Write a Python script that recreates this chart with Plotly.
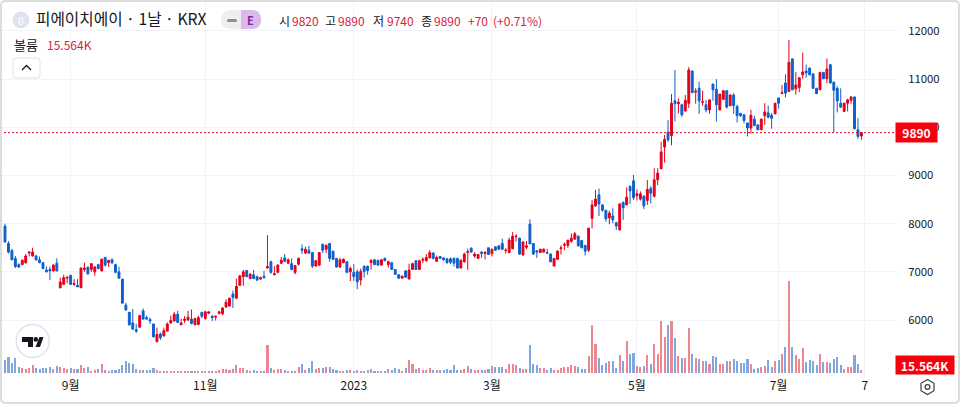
import plotly.graph_objects as go

opens = [7950,7590,7440,7280,7150,7150,7190,7390,7330,7330,
7250,7190,7040,7050,7020,7180,6670,6740,6870,6930,
6740,6720,6670,7050,7090,7050,7000,7150,7020,7300,
7190,7250,7150,7000,6850,6310,6160,5940,5800,5850,
6190,6050,6010,5920,5550,5710,5670,5770,5940,5980,
6120,5900,5990,6000,6020,5900,5910,6160,6030,6140,
6080,6060,6140,6130,6270,6290,6540,6450,6720,6900,
7030,6860,6940,6900,6850,6910,7080,7210,6940,6990,
7180,7290,7180,7170,6990,7160,7480,7390,7450,7400,
7120,7140,7570,7470,7590,7430,7280,7100,7190,7210,
7000,6990,7000,6830,7110,7120,7190,7250,7240,7140,
7280,7150,7190,7050,6940,6870,7020,6850,7050,7230,
7050,7240,7230,7290,7390,7220,7320,7290,7270,7270,
7280,7280,7080,7210,7400,7490,7330,7280,7410,7380,
7500,7380,7520,7540,7590,7440,7400,7480,7730,7700,
7350,7510,7990,7590,7440,7400,7410,7400,7370,7120,
7260,7480,7550,7550,7630,7680,7740,7650,7550,7450,
8110,8370,8600,8390,8280,8120,8160,8020,7870,8440,
8390,8770,8890,8580,8510,8570,8480,8730,8570,8910,
9140,9590,9900,9830,10550,10490,10470,10340,10500,11170,
10730,10810,10520,10470,10360,10900,10790,10360,10580,10760,
10450,10670,10430,10290,10260,10090,9985,10170,10050,9950,
10240,10300,10250,10280,10610,10700,10920,10745,11420,10800,
10830,11090,11170,11230,11110,10810,10780,11140,11010,11300,
10940,10810,10500,10330,10500,10560,10630,9950,9820]

highs = [8000,7640,7480,7330,7180,7260,7370,7430,7500,7350,
7320,7210,7110,7110,7160,7280,6880,6940,6890,6930,
6850,6850,7090,7190,7120,7170,7120,7170,7280,7310,
7240,7280,7170,7110,6850,6360,6170,6230,5920,6110,
6240,6090,6050,5920,5840,5740,5840,5950,6090,6170,
6190,6030,6080,6190,6220,6050,6090,6170,6190,6170,
6100,6080,6190,6270,6430,6470,6610,6860,6930,7040,
7030,6980,7040,6920,6900,7020,7760,7230,7120,7160,
7310,7370,7280,7280,7140,7300,7570,7520,7540,7400,
7250,7400,7590,7570,7590,7430,7280,7290,7280,7220,
7110,7160,7050,7070,7140,7120,7260,7260,7250,7270,
7300,7230,7200,7050,6950,6920,7040,7170,7190,7240,
7250,7300,7370,7450,7410,7340,7330,7300,7290,7300,
7300,7290,7260,7400,7480,7510,7410,7370,7430,7420,
7500,7480,7530,7550,7690,7500,7710,7830,7780,7710,
7640,7640,8090,7590,7440,7480,7490,7480,7380,7280,
7450,7550,7610,7660,7800,7830,7760,7660,7550,7910,
8490,8700,8730,8410,8280,8270,8320,8040,8420,8460,
8750,8800,9010,8710,8670,8590,8910,8780,9150,9150,
9700,9840,10150,10690,11190,10600,10490,10670,11250,11170,
10810,10950,10760,10570,10570,10900,11000,10690,10770,10770,
10680,10710,10470,10300,10270,10100,10365,10240,10060,10180,
10500,10450,10300,10510,10610,10880,11100,11810,11430,11150,
11030,11550,11300,11240,11120,10820,11150,11150,11430,11310,
10940,10850,10810,10510,10590,10650,10640,10190,9890]

lows = [7610,7380,7250,7080,7080,7140,7170,7320,7320,7230,
7180,7050,6990,6830,7010,7010,6660,6730,6760,6730,
6710,6690,6670,7000,6940,7000,6920,7050,7010,7110,
7100,7160,6970,6860,6350,6190,5890,5810,5730,5850,
6010,6010,5920,5640,5540,5590,5660,5760,5920,5970,
5940,5900,5940,5980,5910,5900,5890,6040,6010,6130,
5980,5990,6110,6100,6250,6280,6250,6440,6710,6710,
6890,6850,6850,6810,6840,6860,7070,6960,6930,6970,
7160,7200,7160,7030,6950,7130,7370,7370,7370,7080,
7110,7120,7390,7390,7210,7250,7090,7080,7180,6970,
6810,6810,6640,6720,6880,6940,7050,7140,7130,7130,
7220,7090,7040,6940,6850,6860,6880,6850,7040,7040,
7050,7180,7210,7280,7260,7210,7270,7230,7170,7160,
7110,7070,7070,7190,7040,7400,7290,7270,7290,7260,
7350,7320,7440,7460,7450,7380,7390,7470,7630,7350,
7340,7470,7580,7350,7290,7390,7400,7370,7200,7120,
7250,7360,7450,7500,7610,7660,7520,7490,7340,7410,
7900,8350,8160,8250,8040,7990,8010,7870,7860,8080,
8390,8410,8490,8480,8480,8300,8390,8420,8540,8800,
9130,9270,9700,9630,10120,10290,10220,10320,10400,10710,
10490,10280,10450,10310,10280,10550,10120,10360,10570,10390,
10440,10280,10100,10220,10080,9810,9870,10020,9940,9940,
10050,10190,9970,10270,10390,10700,10620,10740,10770,10680,
10730,11010,11030,11080,10800,10690,10770,11000,10920,10910,
9900,10310,10400,10320,10330,10490,9960,9760,9740]

closes = [7620,7410,7250,7110,7100,7240,7330,7410,7410,7250,
7190,7070,7000,7020,7140,7020,6790,6880,6890,6740,
6760,6690,7080,7080,6960,7170,7100,7070,7260,7140,
7240,7190,6990,6870,6350,6210,5900,5810,5770,6090,
6020,6020,5980,5650,5700,5630,5780,5920,5990,6120,
5950,5940,6020,6060,5930,6030,6050,6080,6170,6170,
6050,6080,6170,6250,6370,6450,6470,6700,6920,7000,
6900,6950,6860,6830,6880,6880,7110,6990,6960,7140,
7240,7220,7250,7050,7130,7280,7450,7470,7390,7120,
7230,7400,7450,7550,7280,7260,7100,7250,7260,6990,
7070,6900,6790,7010,7010,7030,7240,7150,7140,7250,
7230,7210,7050,6950,6870,6910,6890,7040,7170,7050,
7230,7260,7300,7400,7280,7300,7280,7250,7190,7200,
7180,7080,7240,7370,7420,7410,7370,7360,7380,7410,
7360,7470,7450,7470,7470,7450,7660,7740,7740,7370,
7620,7540,7580,7370,7410,7470,7470,7390,7210,7280,
7430,7500,7570,7660,7700,7790,7540,7500,7430,7910,
8390,8510,8410,8280,8100,8220,8080,7950,8410,8330,
8550,8680,8540,8620,8620,8370,8710,8630,8910,9050,
9490,9750,9740,10500,10490,10520,10260,10560,11190,10720,
10750,10550,10530,10360,10570,10780,10470,10690,10760,10420,
10670,10450,10240,10240,10140,9985,10250,10040,9950,10170,
10320,10210,10190,10500,10500,10720,10710,11350,10780,10880,
11030,11150,11130,11090,10810,10700,11140,11010,11210,10920,
10770,10550,10420,10500,10570,10630,9970,9810,9890]

volumes_k = [74,90,58,84,35,25,23,25,45,29,
23,29,29,31,23,39,31,29,20,25,
20,23,45,27,31,12,16,20,51,16,
12,18,16,20,45,68,55,53,21,16,
14,16,16,27,16,12,10,9,10,9,
10,10,10,10,8,10,10,9,10,9,
10,12,16,20,21,14,20,45,27,27,
16,12,16,10,8,8,162,25,18,20,
20,16,10,8,8,31,51,16,27,68,
20,25,27,31,31,20,14,8,12,18,
16,10,14,12,12,16,20,8,8,10,
12,21,16,25,20,12,25,72,53,21,
27,18,18,25,14,18,14,18,21,14,
45,14,16,20,39,20,16,16,16,16,
23,39,31,31,35,23,51,51,47,25,
23,20,162,49,45,27,25,16,25,16,
16,29,31,31,43,39,31,20,21,98,
279,168,86,45,57,68,68,29,103,68,
185,109,115,39,35,39,103,51,168,109,
302,209,279,302,203,98,86,86,261,109,
86,78,68,68,51,98,92,51,51,68,
68,80,68,57,57,80,51,21,25,33,
39,74,33,68,74,107,150,536,150,103,
80,144,62,74,68,45,109,62,62,57,
80,92,45,21,35,33,103,51,15.564]

x_ticks = [19, 58, 101, 141, 183, 224, 249]
x_labels = ["9월", "11월", "2023", "3월", "5월", "7월", "7"]
y_ticks = [6000, 7000, 8000, 9000, 10000, 11000, 12000]
last_price = 9890

W, H = 960, 404
PW, PH = 897, 378
RED, BLUE = "#e3001b", "#0e5fcc"
VRED, VBLUE = "#ea8791", "#81a8de"
TXT = "#131722"
FONT = "Noto Sans CJK KR, Noto Sans, sans-serif"

xs = list(range(len(opens)))


def px(x):
    return x / PW


def py(y):
    return 1 - y / PH


def path(cmds):
    out = []
    for c in cmds:
        if isinstance(c, str):
            out.append(c)
        else:
            out.append(f"{px(c[0]):.5f},{py(c[1]):.5f}")
    return " ".join(out)


def rrect(x0, y0, x1, y1, r):
    return path(["M", (x0 + r, y0), "L", (x1 - r, y0), "Q", (x1, y0), (x1, y0 + r), "L", (x1, y1 - r),
                 "Q", (x1, y1), (x1 - r, y1), "L", (x0 + r, y1), "Q", (x0, y1), (x0, y1 - r),
                 "L", (x0, y0 + r), "Q", (x0, y0), (x0 + r, y0), "Z"])


def shp(d, fill=None, line=None, width=1):
    return dict(type="path", xref="paper", yref="paper", path=d, fillcolor=fill or "rgba(0,0,0,0)",
                line=dict(color=line or "rgba(0,0,0,0)", width=width if line else 0), layer="above")


def circ(cx, cy, r, fill=None, line=None, width=1):
    return dict(type="circle", xref="paper", yref="paper", x0=px(cx - r), x1=px(cx + r), y0=py(cy + r), y1=py(cy - r),
                fillcolor=fill or "rgba(0,0,0,0)", line=dict(color=line or "rgba(0,0,0,0)", width=width if line else 0),
                layer="above")


def txt(x, y, s, size=12, color=TXT, anchor="left", bold=False, bg=None):
    return dict(xref="paper", yref="paper", x=px(x), y=py(y), text=f"<b>{s}</b>" if bold else s, showarrow=False,
                xanchor=anchor, yanchor="middle", font=dict(size=size, color=color, family=FONT),
                bgcolor=bg, borderpad=0, align="left")


fig = go.Figure()
fig.add_trace(go.Bar(x=xs, y=volumes_k, width=0.6, yaxis="y",
                     marker=dict(color=[VRED if c >= o else VBLUE for o, c in zip(opens, closes)], line_width=0),
                     hoverinfo="skip"))
fig.add_trace(go.Candlestick(x=xs, open=opens, high=highs, low=lows, close=closes, yaxis="y2",
                             increasing=dict(line=dict(color=RED, width=1), fillcolor=RED),
                             decreasing=dict(line=dict(color=BLUE, width=1), fillcolor=BLUE),
                             whiskerwidth=0, hoverinfo="skip"))

R = "#d9213a"

shapes = [
    dict(type="line", xref="paper", yref="y2", x0=0, x1=1, y0=last_price, y1=last_price,
         line=dict(color=RED, width=1, dash="2px,2px"), layer="above"),
    shp(rrect(1, 1, 959, 403, 5), line="#dcdcdc", width=2),
    circ(21, 20, 8.5, fill="#dfe3ef"),
    shp(rrect(221, 10, 261, 29, 9.5), fill="#eeeeee"),
    shp(path(["M", (241, 10), "L", (251.5, 10), "Q", (261, 10), (261, 19.5), "Q", (261, 29), (251.5, 29),
              "L", (241, 29), "Z"]), fill="#dcb8ec"),
    shp(rrect(227, 19, 237, 22, 1.5), fill="#8a8e99"),
    shp(rrect(13, 58, 40, 78, 3), fill="#ffffff", line="#e0e3eb"),
    shp(path(["M", (22, 70), "L", (26.5, 65.5), "L", (31, 70)]), line=TXT, width=1.3),
    circ(32.7, 341, 16.5, fill="#ffffff", line="#e0e3eb", width=1.5),
    shp(path(["M", (22, 337), "L", (33, 337), "L", (33, 347), "L", (28, 347), "L", (28, 342), "L", (22, 342), "Z"]), fill=TXT),
    circ(35.8, 339.4, 2.3, fill=TXT),
    shp(path(["M", (38, 347), "L", (40, 347), "L", (43.5, 337), "L", (39.5, 337), "L", (35.5, 347), "Z"]), fill=TXT),
    shp(path(["M", (927.5, 379.5), "L", (934, 383.3), "L", (934, 390.7), "L", (927.5, 394.5), "L", (921, 390.7),
              "L", (921, 383.3), "Z"]), line="#3a3e48", width=1.2),
    circ(927.5, 387, 2.4, line="#3a3e48", width=1.2),
]

annotations = [
    txt(21, 20, "0", size=10, color="#ffffff", anchor="center"),
    txt(35, 19, "피에이치에이 · 1날 · KRX", size=15.7),
    txt(250, 20, "E", size=11, color="#7b2d9b", anchor="center", bold=True),
    txt(278, 20, "시", size=12), txt(291, 20, "9820", size=12, color=R),
    txt(324, 20, "고", size=12), txt(337, 20, "9890", size=12, color=R),
    txt(372, 20, "저", size=12), txt(386, 20, "9740", size=12, color=R),
    txt(420, 20, "종", size=12), txt(433, 20, "9890", size=12, color=R),
    txt(467, 20, "+70", size=12, color=R), txt(492, 20, "(+0.71%)", size=12, color=R),
    txt(13, 44, "볼륨", size=13),
    txt(46, 44, "15.564K", size=12, color=R),
    dict(xref="paper", yref="paper", x=px(916.5), y=py(132.5), text="<b>9890</b>", showarrow=False, xanchor="center",
         yanchor="middle", width=39, height=17, bgcolor="#f7000d", font=dict(size=12, color="#ffffff", family=FONT)),
    dict(xref="paper", yref="paper", x=px(925), y=py(365), text="<b>15.564K</b>", showarrow=False, xanchor="center",
         yanchor="middle", width=56, height=16, bgcolor="#f7000d", font=dict(size=12, color="#ffffff", family=FONT)),
]

fig.update_layout(
    width=W, height=H, autosize=False, margin=dict(l=0, r=W - PW, t=0, b=H - PH),
    paper_bgcolor="#ffffff", plot_bgcolor="#ffffff", showlegend=False, boxgap=0.22, bargap=0,
    font=dict(family=FONT, color=TXT, size=12),
    xaxis=dict(range=[-1.45, 258.3], tickvals=x_ticks, ticktext=x_labels, showgrid=True, gridcolor="#f0f3fa", gridwidth=1,
               zeroline=False, showline=False, ticks="", ticklabelstandoff=-1,
               rangeslider=dict(visible=False), tickfont=dict(size=12, color=TXT)),
    yaxis=dict(range=[-31, 2180], visible=False, fixedrange=True),
    yaxis2=dict(range=[4797, 12643], overlaying="y", side="right", tickvals=y_ticks, tickformat="d", showgrid=True,
                gridcolor="#f0f3fa", zeroline=False, showline=False, ticks="outside", ticklen=8,
                tickcolor="rgba(0,0,0,0)", tickfont=dict(size=11.3, color=TXT)),
    shapes=shapes, annotations=annotations,
)

fig.write_html("out.html", config=dict(displayModeBar=False),
               post_script="document.body.style.margin='0';document.body.style.overflow='hidden';")
